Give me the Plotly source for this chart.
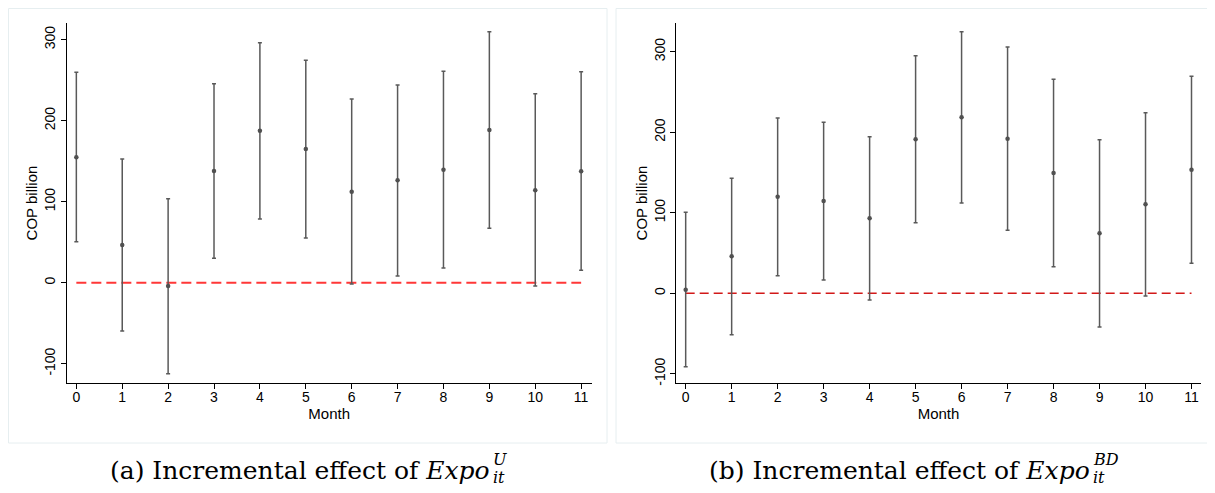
import plotly.graph_objects as go

# The page body adds an 8px margin, so the figure is drawn 8px right/down.
OFF = 8
W, H = 1215 - OFF, 493 - OFF

months = list(range(12))

# Panel (a): Incremental effect of Expo^U
a_est = [154.8, 46.5, -4.1, 137.9, 187.7, 165.1, 112.3, 126.4, 139.5, 188.5, 114.1, 137.5]
a_hi = [259.7, 152.7, 103.7, 245.7, 296.3, 274.5, 226.8, 244.1, 261.0, 309.9, 233.4, 260.5]
a_lo = [50.6, -59.6, -112.3, 30.1, 78.6, 55.2, -1.6, 8.3, 18.1, 67.2, -4.1, 15.3]

# Panel (b): Incremental effect of Expo^BD
b_est = [4.5, 46.0, 120.0, 114.7, 93.2, 191.3, 218.6, 192.1, 149.4, 74.5, 110.6, 153.5]
b_hi = [100.6, 142.9, 217.8, 212.4, 194.5, 295.2, 325.0, 306.0, 265.8, 190.8, 224.3, 269.6]
b_lo = [-91.2, -51.4, 21.9, 16.5, -8.3, 87.7, 112.2, 78.3, 33.1, -41.9, -3.4, 37.3]

y_ticks = [-100, 0, 100, 200, 300]
ref_x = [0, 11]
ref_y = [0, 0]

BAR = "#595959"
TICKFONT = dict(family="Liberation Sans, Arial, sans-serif", size=14, color="#000")
TITLEFONT = dict(family="Liberation Sans, Arial, sans-serif", size=15, color="#000")


def px_x(p):
    return (p - OFF) / W


def px_y(p):
    return (H - (p - OFF)) / H


fig = go.Figure()

for i, (est, hi, lo, red, rw, dash) in enumerate([
    (a_est, a_hi, a_lo, "rgb(255,55,55)", 2, "10px,5px"),
    (b_est, b_hi, b_lo, "rgb(210,25,25)", 1.5, "9px,5px"),
]):
    xa = "x" if i == 0 else "x2"
    ya = "y" if i == 0 else "y2"
    fig.add_trace(go.Scatter(
        x=ref_x, y=ref_y, mode="lines", xaxis=xa, yaxis=ya,
        line=dict(color=red, width=rw, dash=dash), showlegend=False, hoverinfo="skip"))
    fig.add_trace(go.Scatter(
        x=months, y=est, mode="markers", xaxis=xa, yaxis=ya,
        marker=dict(color="#505050", size=4.5),
        error_y=dict(type="data", symmetric=False,
                     array=[h - e for h, e in zip(hi, est)],
                     arrayminus=[e - l for e, l in zip(est, lo)],
                     color=BAR, thickness=1.5, width=2),
        showlegend=False))

common_x = dict(
    tickmode="array", tickvals=months, ticktext=[str(m) for m in months],
    showline=True, linecolor="#000", linewidth=1, ticks="outside", ticklen=5,
    tickcolor="#000", tickfont=TICKFONT, showgrid=False, zeroline=False,
    ticklabelstandoff=-4,
    automargin=False, title=dict(text="Month", font=TITLEFONT, standoff=0))
common_y = dict(
    tickmode="array", tickvals=y_ticks, ticktext=[str(v) for v in y_ticks],
    tickangle=-90,
    showline=True, linecolor="#000", linewidth=1, ticks="outside", ticklen=5,
    tickcolor="#000", tickfont=TICKFONT, showgrid=False, zeroline=False,
    automargin=False, title=dict(text="COP billion", font=TITLEFONT, standoff=0))

ydom = [px_y(383.3), px_y(22.7)]

fig.update_layout(
    width=W, height=H,
    margin=dict(l=0, r=0, t=0, b=0),
    paper_bgcolor="white", plot_bgcolor="white",
    xaxis=dict(common_x, domain=[px_x(66.7), px_x(591.7)], range=[-0.21, 11.23], anchor="y"),
    yaxis=dict(common_y, domain=ydom, range=[-124.2, 321], anchor="x"),
    xaxis2=dict(common_x, domain=[px_x(676.3), px_x(1200.7)], range=[-0.204, 11.2], anchor="y2"),
    yaxis2=dict(common_y, domain=ydom, range=[-111.8, 336.1], anchor="x2"),
)

# panel frames
for x0, x1 in [(8.5, 607), (616, 1213)]:
    fig.add_shape(type="rect", xref="paper", yref="paper",
                  x0=px_x(x0), x1=px_x(x1), y0=px_y(443), y1=px_y(8.5),
                  line=dict(color="#e6eef0", width=1), fillcolor="rgba(0,0,0,0)", layer="below")

CAP = dict(family="DejaVu Serif, Liberation Serif, serif", size=25, color="#000")
CAPS = dict(family="DejaVu Serif, Liberation Serif, serif", size=16, color="#000")

captions = [
    ("(a) Incremental effect of <i>Expo</i>", 491, "<i>U</i>"),
    ("(b) Incremental effect of <i>Expo</i>", 1091, "<i>BD</i>"),
]
for text, xend, sup in captions:
    fig.add_annotation(xref="paper", yref="paper", x=px_x(xend), y=px_y(470),
                       xanchor="right", yanchor="middle", text=text, showarrow=False,
                       font=CAP, borderpad=0)
    fig.add_annotation(xref="paper", yref="paper", x=px_x(xend + 1), y=px_y(459),
                       xanchor="left", yanchor="middle", text=sup, showarrow=False,
                       font=CAPS, borderpad=0)
    fig.add_annotation(xref="paper", yref="paper", x=px_x(xend + 1), y=px_y(477),
                       xanchor="left", yanchor="middle", text="<i>it</i>", showarrow=False,
                       font=CAPS, borderpad=0)

fig.write_html("out.html")
